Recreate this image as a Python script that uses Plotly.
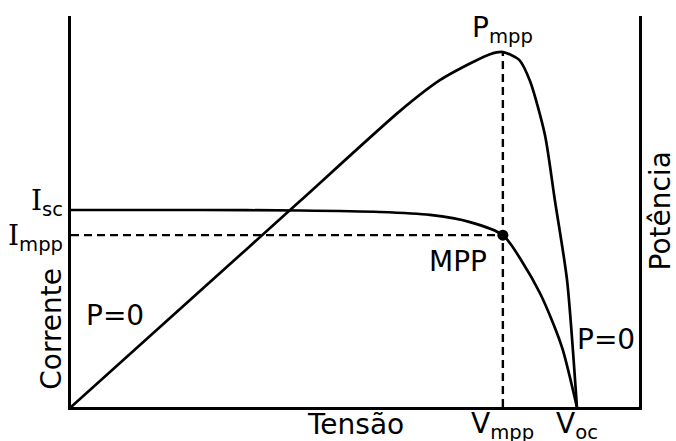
import plotly.graph_objects as go

# Characteristic values of the PV module
V_OC = 22.0      # open-circuit voltage (V)
V_MPP = 18.78    # voltage at maximum power point (V)
I_SC = 8.0       # short-circuit current (A)
I_MPP = 6.98     # current at maximum power point (A)
P_MPP = 131.0    # maximum power (W)

# I-V curve
iv_voltage = [0.0, 5.61, 9.96, 13.43, 15.61, 17.35, 18.78, 19.65, 20.39, 20.96, 21.39, 22.0]
iv_current = [8.0, 8.0, 7.98, 7.92, 7.80, 7.51, 6.98, 5.85, 4.63, 3.41, 2.31, 0.0]

# P-V curve
pv_voltage = [0.0, 5.61, 9.96, 14.30, 16.04, 17.48, 18.22, 18.78, 19.48, 19.96, 20.61, 21.04, 21.57, 22.0]
pv_power = [0.0, 42.8, 76.0, 109.2, 120.6, 127.3, 130.2, 131.0, 128.2, 120.3, 100.4, 76.4, 46.9, 0.0]

X_MAX = 24.7
I_MAX = 15.88
P_MAX = 144.3

FONT = "DejaVu Sans"
SERIF_I = "<span style='font-family:DejaVu Serif'>I</span>"
FS = 28
BLACK = "#000000"

fig = go.Figure()

fig.add_trace(go.Scatter(
    x=iv_voltage, y=iv_current, mode="lines",
    line=dict(color=BLACK, width=2.7, shape="spline", smoothing=0.8),
    hoverinfo="skip", cliponaxis=False,
))
fig.add_trace(go.Scatter(
    x=pv_voltage, y=pv_power, mode="lines", yaxis="y2",
    line=dict(color=BLACK, width=2.7, shape="spline", smoothing=0.7),
    hoverinfo="skip", cliponaxis=False,
))
# dashed guides to the maximum power point
fig.add_trace(go.Scatter(
    x=[0, V_MPP], y=[I_MPP, I_MPP], mode="lines",
    line=dict(color=BLACK, width=2.4, dash="8px,5px"), hoverinfo="skip",
))
fig.add_trace(go.Scatter(
    x=[V_MPP, V_MPP], y=[0, P_MPP], mode="lines", yaxis="y2",
    line=dict(color=BLACK, width=2.4, dash="8px,5px"), hoverinfo="skip",
))
fig.add_trace(go.Scatter(
    x=[V_MPP], y=[I_MPP], mode="markers",
    marker=dict(color=BLACK, size=11), hoverinfo="skip", cliponaxis=False,
))

ann = []
def label(text, x, y, xref, yref, xanchor="center", yanchor="middle", xshift=0, yshift=0, angle=0):
    ann.append(dict(text=text, x=x, y=y, xref=xref, yref=yref, xanchor=xanchor,
                    yanchor=yanchor, xshift=xshift, yshift=yshift, textangle=angle,
                    showarrow=False, font=dict(family=FONT, size=FS, color=BLACK)))

label(SERIF_I + "<sub>sc</sub>", 0, I_SC, "paper", "y", xanchor="right", xshift=-6, yshift=8)
label(SERIF_I + "<sub>mpp</sub>", 0, I_MPP, "paper", "y", xanchor="right", xshift=-6, yshift=-2)
label("P<sub>mpp</sub>", V_MPP, P_MPP, "x", "y2", yshift=23)
label("MPP", V_MPP, I_MPP, "x", "y", xanchor="right", xshift=-14, yshift=-26)
label("P=0", 0.55, 0.235, "x", "paper", xanchor="left")
label("P=0", V_OC, 0.172, "x", "paper", xanchor="left", xshift=-2)
label("V<sub>mpp</sub>", V_MPP, 0, "x", "paper", yanchor="top", yshift=2)
label("V<sub>oc</sub>", V_OC, 0, "x", "paper", yanchor="top", yshift=2)
label("Tensão", 0.5, 0, "paper", "paper", yanchor="top", yshift=1)
label("Corrente", 0, 0.2, "paper", "paper", angle=-90, xshift=-19)
label("Potência", 1, 0.5, "paper", "paper", angle=-90, xshift=21)

axis_common = dict(showgrid=False, zeroline=False, showticklabels=False, ticks="",
                   showline=True, linecolor=BLACK, linewidth=3, fixedrange=True)

fig.update_layout(
    width=676, height=441,
    margin=dict(l=71, r=37, t=16, b=34),
    paper_bgcolor="white", plot_bgcolor="white",
    showlegend=False,
    xaxis=dict(range=[0, X_MAX], **axis_common),
    yaxis=dict(range=[0, I_MAX], side="left", **axis_common),
    yaxis2=dict(range=[0, P_MAX], side="right", overlaying="y", **axis_common),
    annotations=ann,
    font=dict(family=FONT),
)

fig.write_html("out.html")
